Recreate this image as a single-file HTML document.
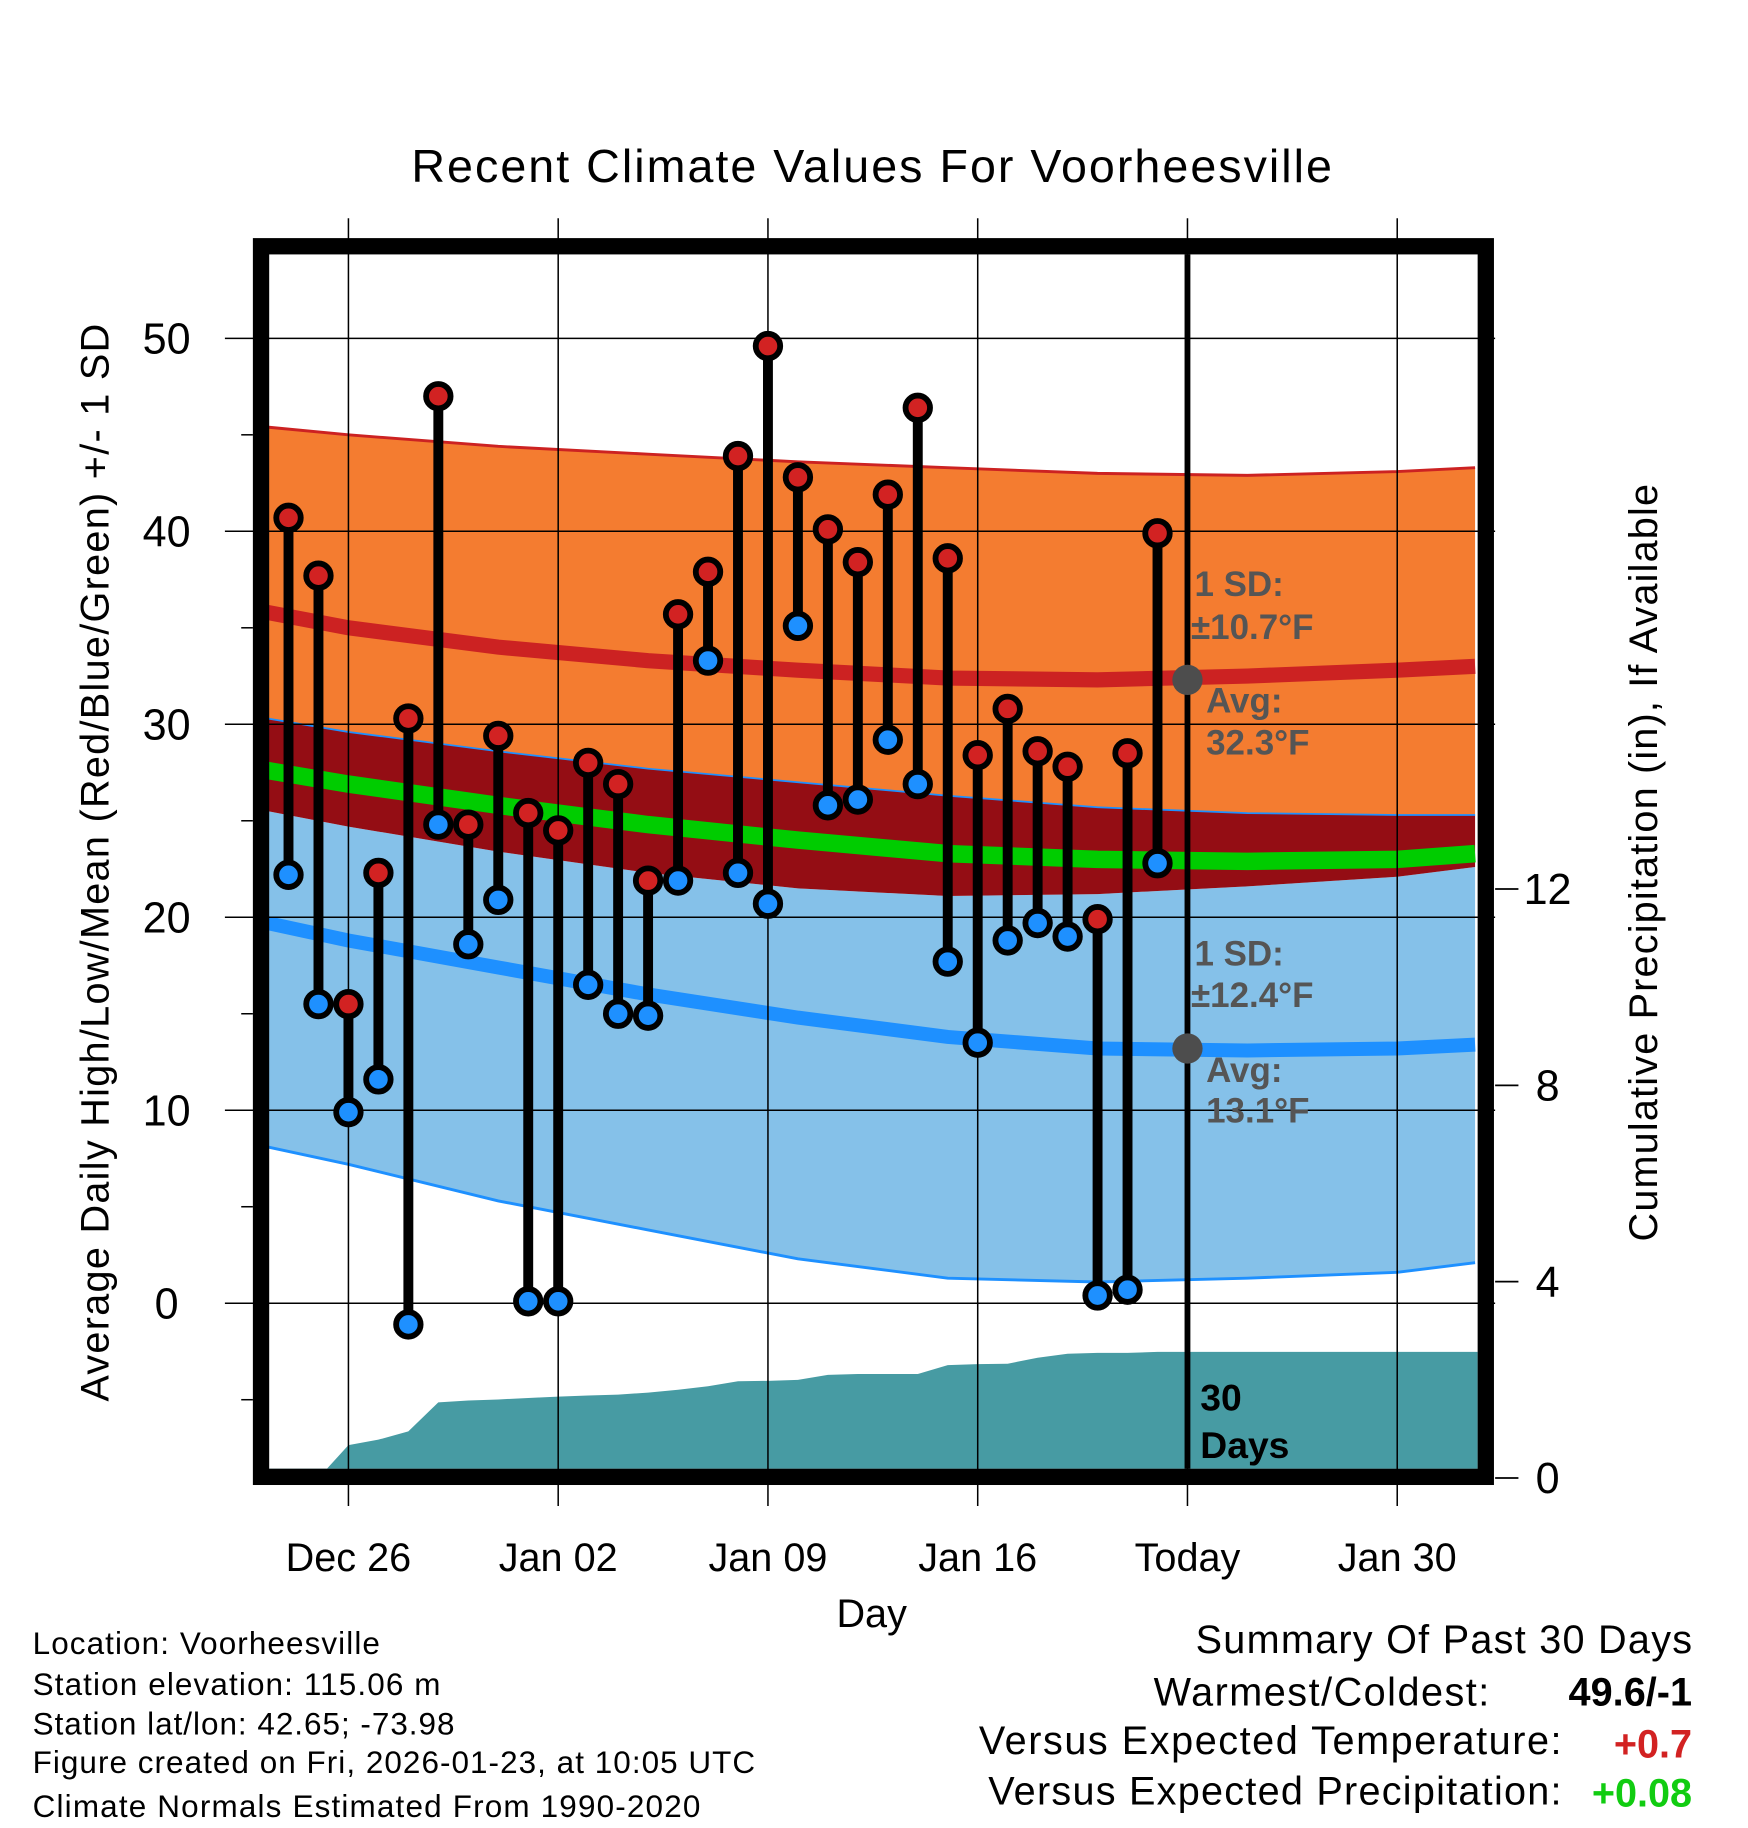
<!DOCTYPE html>
<html><head><meta charset="utf-8"><style>
html,body{margin:0;padding:0;background:#fff}
svg{display:block;font-family:"Liberation Sans",sans-serif}
</style></head><body>
<svg id="chart" width="1748" height="1828" viewBox="0 0 1500 1568" xmlns="http://www.w3.org/2000/svg">
<g id="bands"></g><g id="grid"></g><g id="marks"></g><g id="frame"></g><g id="labels"></g>
</svg>
<script>
// ---- data ----
const obsDays = [-2,-1,0,1,2,3,4,5,6,7,8,9,10,11,12,13,14,15,16,17,18,19,20,21,22,23,24,25,26,27];
const highs = [40.7,37.7,15.5,22.3,30.3,47.0,24.8,29.4,25.4,24.5,28.0,26.9,21.9,35.7,37.9,43.9,49.6,42.8,40.1,38.4,41.9,46.4,38.6,28.4,30.8,28.6,27.8,19.9,28.5,39.9];
const lows = [22.2,15.5,9.9,11.6,-1.1,24.8,18.6,20.9,0.1,0.1,16.5,15.0,14.9,21.9,33.3,22.3,20.7,35.1,25.8,26.1,29.2,26.9,17.7,13.5,18.8,19.7,19.0,0.4,0.7,22.8];
const precip = [0,0,0.67,0.78,0.95,1.54,1.58,1.6,1.63,1.66,1.68,1.7,1.74,1.8,1.87,1.97,1.98,2.0,2.1,2.12,2.12,2.12,2.3,2.32,2.33,2.45,2.53,2.55,2.55,2.57];
const normDays = [-2.7,0,5,10,15,20,25,30,35,37.6];
const highAvg = [35.8,35.0,34.0,33.3,32.8,32.4,32.3,32.5,32.8,33.0];
const highUp = [45.4,45.0,44.4,44.0,43.6,43.3,43.0,42.9,43.1,43.3];
const highLo = [30.3,29.6,28.6,27.7,27.0,26.3,25.7,25.4,25.3,25.3];
const meanT = [27.6,26.9,25.8,24.8,24.0,23.3,23.0,22.9,23.0,23.3];
const lowAvg = [19.7,18.8,17.4,16.0,14.8,13.8,13.2,13.1,13.2,13.4];
const lowUp = [25.5,24.7,23.4,22.3,21.5,21.1,21.2,21.6,22.1,22.6];
const lowLo = [8.1,7.2,5.3,3.8,2.3,1.3,1.1,1.3,1.6,2.1];
const yTicks = [0,10,20,30,40,50];
const pTicks = [0,4,8,12];
const xTickDays = [0,7,14,21,28,35];
const xTickLabels = ["Dec 26","Jan 02","Jan 09","Jan 16","Today","Jan 30"];
const todayDay = 28;

// ---- axes ----
const X0=231,X1=1268,Y0=218,Y1=1260;
const x = d => 299 + d*25.714;
const y = v => 1118 - v*16.56;
const yp = p => 1268 - p*42.12;
const NS="http://www.w3.org/2000/svg";
function mk(tag, parent, attrs){const e=document.createElementNS(NS,tag);for(const k in attrs)e.setAttribute(k,attrs[k]);document.getElementById(parent).appendChild(e);return e;}
function line(arr){return normDays.map((d,i)=>x(d).toFixed(1)+','+y(arr[i]).toFixed(1));}
function band(a,b){return line(a).concat(line(b).reverse()).join(' ');}

let e;
e=mk('polygon','bands',{points:band(lowUp,lowLo),fill:'#85c1e9'});

e=mk('polyline','bands',{points:line(lowLo).join(' '),fill:'none',stroke:'#1e90ff','stroke-width':2.5});

e=mk('polygon','bands',{points:band(highLo,lowUp),fill:'#940d14'});

e=mk('polygon','bands',{points:band(highUp,highLo),fill:'#f47c30'});

e=mk('polyline','bands',{points:line(highUp).join(' '),fill:'none',stroke:'#cc2222','stroke-width':2.5});

e=mk('polyline','bands',{points:line(highLo).join(' '),fill:'none',stroke:'#1e90ff','stroke-width':1.5});

e=mk('polyline','bands',{points:line(highAvg).join(' '),fill:'none',stroke:'#cc2222','stroke-width':13});

e=mk('polyline','bands',{points:line(meanT).join(' '),fill:'none',stroke:'#00cc00','stroke-width':15});

e=mk('polyline','bands',{points:line(lowAvg).join(' '),fill:'none',stroke:'#1e90ff','stroke-width':12});


// precipitation area
let pp=[x(obsDays[0])+','+yp(0)];
obsDays.forEach((d,i)=>pp.push(x(d).toFixed(1)+','+yp(precip[i]).toFixed(1)));
pp.push(X1+','+yp(precip[precip.length-1]).toFixed(1));pp.push(X1+','+Y1);pp.push(X0+','+Y1);pp.push(X0+','+yp(0));
e=mk('polygon','bands',{points:pp.join(' '),fill:'#479ba3'});


// grid
yTicks.forEach(v=>{
 e=mk('line','grid',{x1:193,x2:1283,y1:y(v),y2:y(v),stroke:'#000','stroke-width':1.3});
 
 e=mk('text','labels',{x:143,y:y(v)+13,'text-anchor':'middle','font-size':37});e.textContent=v;
 
});
yTicks.concat([60]).forEach(v=>{const m=v-5;if(y(m)>Y0&&y(m)<Y1){
 e=mk('line','grid',{x1:207,x2:217,y1:y(m),y2:y(m),stroke:'#000','stroke-width':1.3});
 }});
xTickDays.forEach((d,i)=>{
 e=mk('line','grid',{x1:x(d),x2:x(d),y1:187,y2:1292,stroke:'#000','stroke-width':1.3});
 
 e=mk('text','labels',{x:x(d),y:1348,'text-anchor':'middle','font-size':34});e.textContent=xTickLabels[i];
 
});
pTicks.forEach(p=>{
 e=mk('line','grid',{x1:1283,x2:1303,y1:yp(p),y2:yp(p),stroke:'#000','stroke-width':1.5});
 
 e=mk('text','labels',{x:1328,y:yp(p)+13,'text-anchor':'middle','font-size':37});e.textContent=p;
 
});

// today line
e=mk('line','marks',{x1:x(todayDay),x2:x(todayDay),y1:Y0,y2:Y1,stroke:'#000','stroke-width':5});


// obs
obsDays.forEach((d,i)=>{
 e=mk('line','marks',{x1:x(d),x2:x(d),y1:y(highs[i]),y2:y(lows[i]),stroke:'#000','stroke-width':8.5});
 
});
obsDays.forEach((d,i)=>{
 e=mk('circle','marks',{cx:x(d),cy:y(highs[i]),r:10.5,fill:'#d22222',stroke:'#000','stroke-width':5});
 
 e=mk('circle','marks',{cx:x(d),cy:y(lows[i]),r:10.5,fill:'#1e90ff',stroke:'#000','stroke-width':5});
 
});
// today avg markers
const tIdx=6;
e=mk('circle','marks',{cx:x(todayDay),cy:y(highAvg[tIdx]),r:13,fill:'#4d4d4d'});

e=mk('circle','marks',{cx:x(todayDay),cy:y(lowAvg[tIdx]),r:13,fill:'#4d4d4d'});


// frame
e=mk('rect','frame',{x:224,y:211,width:1051,height:1056,fill:'none',stroke:'#000','stroke-width':14});

</script>
<script>
// static text
(function(){
const NS="http://www.w3.org/2000/svg";const g=document.getElementById('labels');
function t(txt,a,name){const e=document.createElementNS(NS,'text');for(const k in a)e.setAttribute(k,a[k]);e.textContent=txt;g.appendChild(e);return e;}
t('Recent Climate Values For Voorheesville',{x:748,y:156,'text-anchor':'middle','font-size':40,textLength:790},'chart-title');
t('Average Daily High/Low/Mean (Red/Blue/Green) +/- 1 SD',{x:0,y:0,'text-anchor':'middle','font-size':34,transform:'translate(93,740) rotate(-90)',textLength:925},'y-axis-title');
t('Cumulative Precipitation (in), If Available',{x:0,y:0,'text-anchor':'middle','font-size':34,transform:'translate(1422,740) rotate(-90)',textLength:650},'precip-axis-title');
t('Day',{x:748,y:1396,'text-anchor':'middle','font-size':34},'x-axis-title');
const gs={fill:'#555','font-weight':'bold','font-size':30};
t('1 SD:',Object.assign({x:1025,y:511},gs),'high-sd-label');
t('±10.7°F',Object.assign({x:1022,y:548},gs),'high-sd-value');
t('Avg:',Object.assign({x:1035,y:611},gs),'high-avg-label');
t('32.3°F',Object.assign({x:1035,y:647},gs),'high-avg-value');
t('1 SD:',Object.assign({x:1025,y:828},gs),'low-sd-label');
t('±12.4°F',Object.assign({x:1022,y:864},gs),'low-sd-value');
t('Avg:',Object.assign({x:1035,y:928},gs),'low-avg-label');
t('13.1°F',Object.assign({x:1035,y:963},gs),'low-avg-value');
t('30',{x:1030,y:1210,'font-weight':'bold','font-size':32},'precip-days-number');
t('Days',{x:1030,y:1251,'font-weight':'bold','font-size':32},'precip-days-label');
const info=['Location: Voorheesville','Station elevation: 115.06 m','Station lat/lon: 42.65; -73.98','Figure created on Fri, 2026-01-23, at 10:05 UTC','Climate Normals Estimated From 1990-2020'];
const iy=[1419,1454,1488,1521,1559];const iw=[298,350,362,620,573];
info.forEach((s,i)=>t(s,{x:28,y:iy[i],'font-size':27,textLength:iw[i]},'station-info-line'));
t('Summary Of Past 30 Days',{x:1452,y:1418,'text-anchor':'end','font-size':34,textLength:426},'summary-title');
t('Warmest/Coldest:',{x:1278,y:1463,'text-anchor':'end','font-size':34,textLength:288},'warmest-coldest-label');
t('49.6/-1',{x:1452,y:1463,'text-anchor':'end','font-size':34,'font-weight':'bold',textLength:106},'warmest-coldest-value');
t('Versus Expected Temperature:',{x:1340,y:1505,'text-anchor':'end','font-size':34,textLength:500},'temp-departure-label');
t('+0.7',{x:1452,y:1508,'text-anchor':'end','font-size':34,'font-weight':'bold',fill:'#d22222'},'temp-departure-value');
t('Versus Expected Precipitation:',{x:1340,y:1548,'text-anchor':'end','font-size':34,textLength:492},'precip-departure-label');
t('+0.08',{x:1452,y:1550,'text-anchor':'end','font-size':34,'font-weight':'bold',fill:'#11cc11'},'precip-departure-value');
})();
</script>
</body></html>
